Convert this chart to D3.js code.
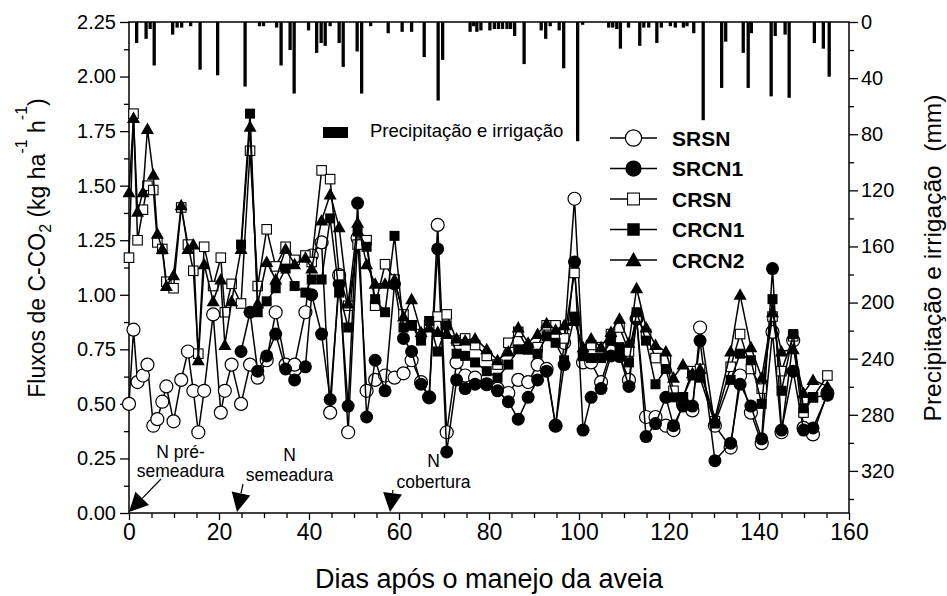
<!DOCTYPE html>
<html><head><meta charset="utf-8">
<script src="https://cdn.jsdelivr.net/npm/d3@7"></script>
<style>
body{margin:0;background:#fff}
svg{font-family:"Liberation Sans",Arial,sans-serif;display:block}
</style>
</head><body>
<svg id="chart" width="947" height="596"></svg>
<script>
// ---------------- data ----------------
const days = [0,1,1.9,3.1,4.1,5.4,6.3,7.4,8.3,9.9,11.6,13.1,14.3,15.4,16.7,18.7,20.4,21.3,22.8,24.9,
26.9,28.6,30.6,32.6,34.8,36.8,39.2,40.6,42.8,44.7,46.7,48.7,50.8,52.8,54.7,56.9,59,61,62.8,64.9,
66.7,68.6,70.6,72.8,74.7,76.9,79.5,81.9,84.3,86.5,88.7,90.8,92.8,94.8,96.7,99,100.9,102.7,104.9,107.1,
109,111.1,112.8,114.9,117,119.3,121,123.1,125.2,126.9,130.2,133.7,135.8,138.2,140.6,143,145,147.6,149.9,152,155.2];

const SRSN = [0.50,0.84,0.60,0.63,0.68,0.40,0.43,0.51,0.58,0.42,0.61,0.74,0.56,0.37,0.56,0.91,0.46,0.56,0.68,0.50,
0.68,0.62,0.70,0.92,0.68,0.68,0.92,1.18,1.24,0.46,1.09,0.37,1.26,0.56,0.61,0.63,0.62,0.64,0.70,0.60,
0.53,1.32,0.37,0.69,0.63,0.62,0.59,0.57,0.55,0.61,0.60,0.68,0.66,0.40,0.78,1.44,0.69,0.69,0.60,0.74,
0.72,0.61,0.89,0.44,0.44,0.40,0.38,0.50,0.47,0.85,0.40,0.30,0.63,0.46,0.32,0.83,0.37,0.79,0.39,0.36,0.55];

const SRCN1 = [null,null,null,null,null,null,null,null,null,null,null,null,null,null,null,null,null,null,null,0.74,
0.92,0.65,0.72,0.82,0.66,0.61,0.67,1.00,0.82,0.52,1.05,0.49,1.42,0.44,0.70,0.56,1.05,0.80,0.74,0.59,
0.53,1.21,0.28,0.61,0.57,0.59,0.59,0.56,0.51,0.43,0.53,0.61,0.65,0.40,0.68,1.15,0.38,0.53,0.57,0.72,
0.72,0.58,0.89,0.35,0.41,0.53,0.40,0.49,0.49,0.79,0.24,0.32,0.59,0.49,0.34,1.12,0.38,0.65,0.38,0.39,0.54];

const CRSN = [1.17,1.83,1.25,1.39,1.50,1.48,1.24,1.21,1.06,1.03,1.40,1.23,1.11,0.73,1.22,1.04,1.17,0.92,1.05,0.96,
1.66,1.04,1.30,1.13,1.22,1.16,1.18,1.15,1.57,1.53,1.09,0.95,1.23,1.25,0.95,1.14,1.07,0.91,0.86,0.82,
0.86,0.90,0.91,0.79,0.80,0.77,0.72,0.68,0.78,0.83,0.75,0.76,0.86,0.86,0.80,1.10,0.72,0.77,0.76,0.82,
0.85,0.74,0.90,0.82,0.71,0.70,0.56,0.53,0.65,0.66,0.42,0.67,0.82,0.66,0.57,0.90,0.65,0.81,0.46,0.53,0.63];

const CRCN1 = [null,null,null,null,null,null,null,null,null,null,null,null,null,null,null,null,null,null,null,1.23,
1.83,0.92,0.97,1.03,1.12,1.04,1.01,1.07,1.07,1.35,1.01,0.85,1.29,1.22,0.98,0.92,1.27,0.85,0.86,0.79,
0.88,0.74,0.86,0.73,0.72,0.69,0.65,0.62,0.68,0.75,0.75,0.73,0.81,0.78,0.70,0.90,0.72,0.71,0.71,0.79,
0.76,0.69,0.92,0.79,0.59,0.66,0.53,0.53,0.63,0.62,0.41,0.61,0.73,0.70,0.50,0.98,0.56,0.82,0.48,0.53,0.54];

const CRCN2 = [1.47,1.81,1.38,1.47,1.76,1.55,1.28,1.21,1.04,1.09,1.41,1.21,1.23,0.70,1.14,0.97,1.07,0.77,0.97,1.21,
1.77,0.96,1.15,1.07,1.21,1.14,1.17,1.12,1.34,1.46,1.31,0.96,1.33,1.14,1.05,1.05,1.07,0.90,0.98,0.83,
0.85,0.83,0.82,0.80,0.79,0.80,0.75,0.70,0.74,0.85,0.78,0.82,0.87,0.84,0.86,0.88,0.76,0.80,0.76,0.83,
0.89,0.78,1.03,0.85,0.77,0.74,0.62,0.68,0.64,0.66,0.43,0.74,1.00,0.76,0.62,0.92,0.74,0.75,0.55,0.61,0.58];

const seriesNames = ["SRSN","SRCN1","CRSN","CRCN1","CRCN2"];

const rainDays = [1.7,3.8,4.7,5.6,9.7,10.7,11.7,13.7,15.8,19.7,25.8,29,29.9,32.8,33.8,35.8,36.7,39.9,41.7,42.7,
43.6,44.7,46.7,47.6,50.7,51.7,53.7,57.6,60.7,62.8,65.6,68.7,69.7,75.8,76.6,77.3,78.2,80.2,81.2,82.1,
83,84,84.8,85.7,87.8,91.6,92.6,93.6,95.6,96.6,99.7,100.8,106.6,107.5,108.4,109.2,111,113.5,114.4,115.5,
117.3,118.3,120.3,121.4,123.2,124,125.5,127.6,131.7,132.6,136.5,137.6,138.3,142.7,143.6,145.8,146.7,152.3,154.3,155.6];
const rainMm = [15,12,5,31,9,4,4,3,34,38,46,3,3,4,31,20,51,6,22,15,
17,3,15,32,21,51,3,8,7,7,25,56,27,7,3,7,6,6,5,5,
5,5,5,10,30,6,12,3,6,33,85,2,4,4,5,19,4,17,4,4,
15,4,3,4,4,3,8,70,47,14,22,47,8,53,10,9,54,15,19,39];

const xTicks = [0,20,40,60,80,100,120,140,160];
const yTicks = [0,0.25,0.5,0.75,1,1.25,1.5,1.75,2,2.25];
const rTicks = [0,40,80,120,160,200,240,280,320];

const annTop = ["N pré-","N","N"];
const annBottom = ["semeadura","semeadura","cobertura"];
const annDays = [0,24,58];

// ---------------- layout ----------------
const X0=129, X1=849, Y0=513, Y1=22;
const svg = d3.select("#chart");
const x = d3.scaleLinear().domain([0,160]).range([X0,X1]);
const y = d3.scaleLinear().domain([0,2.25]).range([Y0,Y1]);
const yr = d3.scaleLinear().domain([0,350]).range([Y1,Y0]);

// precipitation bars
svg.append("g").selectAll("rect")
  .data(rainDays.map((d,i)=>({d:d, mm:rainMm[i]})))
  .join("rect")
  .attr("x", d=>x(d.d)-1.65).attr("width", 3.3)
  .attr("y", Y1).attr("height", d=>yr(d.mm)-Y1)
  .attr("fill","#000");

// axes
function styleAxis(g, fs){
  g.select(".domain").remove();
  g.selectAll(".tick line").attr("stroke","#000").attr("stroke-width",1.3);
  g.selectAll(".tick text").attr("fill","#000").attr("font-size",fs);
}
const gL = svg.append("g").attr("transform",`translate(${X0},0)`)
  .call(d3.axisLeft(y).tickValues(yTicks).tickFormat(d3.format(".2f")).tickSize(9).tickPadding(4));
styleAxis(gL, 20);
const gLm = svg.append("g").attr("transform",`translate(${X0},0)`)
  .call(d3.axisLeft(y).tickValues(d3.range(0.125,2.25,0.25)).tickFormat("").tickSize(5));
styleAxis(gLm, 20);

const gR = svg.append("g").attr("transform",`translate(${X1},0)`)
  .call(d3.axisRight(yr).tickValues(rTicks).tickFormat(d3.format("d")).tickSize(9).tickPadding(3));
styleAxis(gR, 20);
const gRm = svg.append("g").attr("transform",`translate(${X1},0)`)
  .call(d3.axisRight(yr).tickValues(d3.range(20,350,40)).tickFormat("").tickSize(5));
styleAxis(gRm, 20);

const gB = svg.append("g").attr("transform",`translate(0,${Y0})`)
  .call(d3.axisBottom(x).tickValues(xTicks).tickFormat(d3.format("d")).tickSize(7).tickPadding(4));
styleAxis(gB, 23);
const gBm = svg.append("g").attr("transform",`translate(0,${Y0})`)
  .call(d3.axisBottom(x).tickValues(d3.range(5,160,5).filter(v=>v%20!==0)).tickFormat("").tickSize(5));
styleAxis(gBm, 23);

// frame
svg.append("rect").attr("x",X0).attr("y",Y1).attr("width",X1-X0).attr("height",Y0-Y1)
  .attr("fill","none").attr("stroke","#000").attr("stroke-width",1.5);

// markers
function drawMarker(g, type, cx, cy, k){
  k = k||1;
  if(type===0){ g.append("circle").attr("cx",cx).attr("cy",cy).attr("r",6.5*k)
      .attr("fill","#fff").attr("stroke","#000").attr("stroke-width",1.2); }
  else if(type===1){ g.append("circle").attr("cx",cx).attr("cy",cy).attr("r",6.5*k).attr("fill","#000"); }
  else if(type===2){ const s=9.5*k; g.append("rect").attr("x",cx-s/2).attr("y",cy-s/2).attr("width",s).attr("height",s)
      .attr("fill","#fff").attr("stroke","#000").attr("stroke-width",1.1); }
  else if(type===3){ const s=10*k; g.append("rect").attr("x",cx-s/2).attr("y",cy-s/2).attr("width",s).attr("height",s).attr("fill","#000"); }
  else { g.append("path").attr("d",`M${cx},${cy-6.5*k}L${cx+6.5*k},${cy+5*k}L${cx-6.5*k},${cy+5*k}Z`).attr("fill","#000"); }
}

const allSeries = [SRSN,SRCN1,CRSN,CRCN1,CRCN2];
const line = d3.line().defined(d=>d.v!=null).x(d=>x(d.d)).y(d=>y(d.v));
allSeries.forEach((vals,si)=>{
  const pts = days.map((d,i)=>({d:d, v:vals[i]}));
  const g = svg.append("g");
  g.append("path").attr("d", line(pts)).attr("fill","none").attr("stroke","#000").attr("stroke-width",1.5);
  pts.filter(p=>p.v!=null).forEach(p=>drawMarker(g, si, x(p.d), y(p.v), 1));
});

// legend (series)
const legY = [138,168.5,199,229.5,260];
seriesNames.forEach((n,i)=>{
  const g = svg.append("g");
  g.append("line").attr("x1",610).attr("x2",657).attr("y1",legY[i]).attr("y2",legY[i])
    .attr("stroke","#000").attr("stroke-width",1.5);
  drawMarker(g, i, 633.5, legY[i], 1.25);
  g.append("text").attr("x",672).attr("y",legY[i]).attr("dy","0.36em")
    .attr("font-size",21).attr("font-weight","bold").text(n);
});

// legend (precipitation)
svg.append("rect").attr("x",323).attr("y",127).attr("width",25).attr("height",11).attr("fill","#000");
svg.append("text").attr("x",370).attr("y",137).attr("font-size",18.5).text("Precipitação e irrigação");

// annotations
const annPos = [
  {tx:180.5, y1:458, y2:477, lx:161, ly:479},
  {tx:289.5, y1:461, y2:481, lx:243, ly:484},
  {tx:433.5, y1:467, y2:488, lx:393, ly:490}
];
function arrow(x1,y1,x2,y2){
  const dx=x2-x1, dy=y2-y1, L=Math.hypot(dx,dy), ux=dx/L, uy=dy/L;
  const hl=19, hw=9.5;
  const bx=x2-ux*hl, by=y2-uy*hl;
  svg.append("line").attr("x1",x1).attr("y1",y1).attr("x2",bx).attr("y2",by)
    .attr("stroke","#000").attr("stroke-width",1.2);
  svg.append("path").attr("d",`M${x2},${y2}L${bx-uy*hw},${by+ux*hw}L${bx+uy*hw},${by-ux*hw}Z`).attr("fill","#000");
}
annDays.forEach((d,i)=>{
  const p = annPos[i];
  svg.append("text").attr("x",p.tx).attr("y",p.y1).attr("text-anchor","middle").attr("font-size",17.5).text(annTop[i]);
  svg.append("text").attr("x",p.tx).attr("y",p.y2).attr("text-anchor","middle").attr("font-size",17.5).text(annBottom[i]);
  arrow(p.lx, p.ly, x(d), Y0-1);
});

// axis titles
svg.append("text").attr("x",489).attr("y",588).attr("text-anchor","middle").attr("font-size",27)
  .text("Dias após o manejo da aveia");

const lt = svg.append("text").attr("transform","translate(45,248) rotate(-90)")
  .attr("text-anchor","middle").attr("font-size",23);
lt.append("tspan").text("Fluxos de  C-CO");
lt.append("tspan").attr("font-size",16).attr("dy",6).text("2");
lt.append("tspan").attr("dy",-6).text(" (kg ha");
lt.append("tspan").attr("font-size",16).attr("dy",-18).text("-1");
lt.append("tspan").attr("dy",18).text(" h");
lt.append("tspan").attr("font-size",16).attr("dy",-18).text("-1");
lt.append("tspan").attr("dy",18).text(")");

svg.append("text").attr("transform","translate(941,258) rotate(-90)")
  .attr("text-anchor","middle").attr("font-size",24.5)
  .style("white-space","pre")
  .text("Precipitação e irrigação  (mm)");
</script>
</body></html>
